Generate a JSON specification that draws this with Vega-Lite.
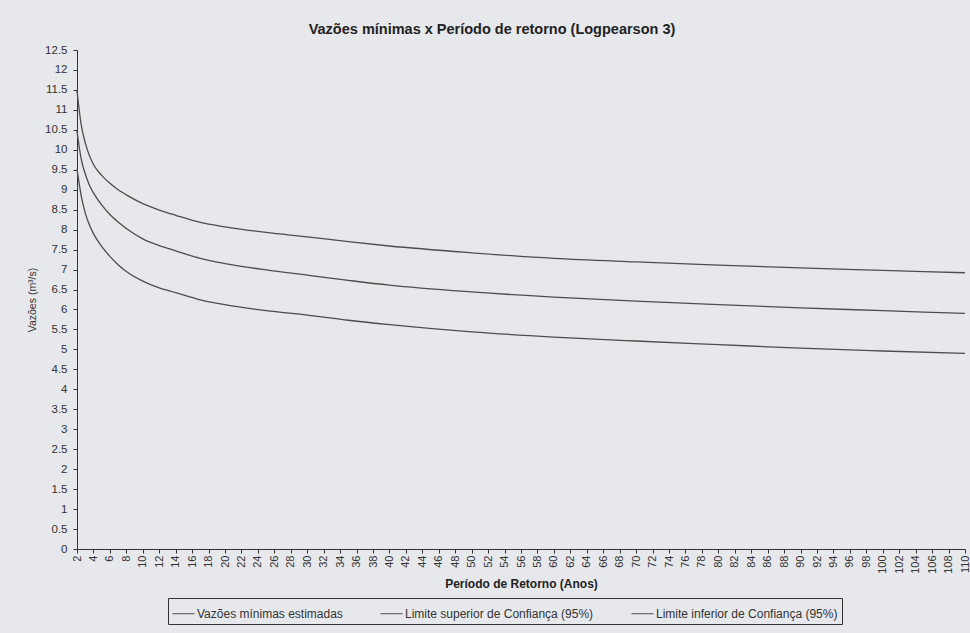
{
  "$schema": "https://vega.github.io/schema/vega-lite/v6.json",
  "width": 888,
  "height": 499,
  "autosize": {"type": "none"},
  "padding": {"left": 77, "top": 50, "right": 5, "bottom": 84},
  "background": "#e7e8ec",
  "title": {
    "text": "Vazões mínimas x Período de retorno (Logpearson 3)",
    "font": "Liberation Sans",
    "fontSize": 14.5,
    "fontWeight": "bold",
    "color": "#222222",
    "anchor": "middle",
    "dx": -29,
    "offset": 7
  },
  "config": {
    "view": {"stroke": null},
    "font": "Liberation Sans"
  },
  "data": {
    "values": [
      {"T": 2, "Vazões mínimas estimadas": 10.47, "Limite superior de Confiança (95%)": 11.48, "Limite inferior de Confiança (95%)": 9.52},
      {"T": 2.5, "Vazões mínimas estimadas": 9.78, "Limite superior de Confiança (95%)": 10.64, "Limite inferior de Confiança (95%)": 8.86},
      {"T": 3, "Vazões mínimas estimadas": 9.40, "Limite superior de Confiança (95%)": 10.18, "Limite inferior de Confiança (95%)": 8.42},
      {"T": 3.5, "Vazões mínimas estimadas": 9.12, "Limite superior de Confiança (95%)": 9.86, "Limite inferior de Confiança (95%)": 8.12},
      {"T": 4, "Vazões mínimas estimadas": 8.92, "Limite superior de Confiança (95%)": 9.63, "Limite inferior de Confiança (95%)": 7.90},
      {"T": 5, "Vazões mínimas estimadas": 8.62, "Limite superior de Confiança (95%)": 9.36, "Limite inferior de Confiança (95%)": 7.58},
      {"T": 6, "Vazões mínimas estimadas": 8.38, "Limite superior de Confiança (95%)": 9.16, "Limite inferior de Confiança (95%)": 7.33},
      {"T": 7, "Vazões mínimas estimadas": 8.19, "Limite superior de Confiança (95%)": 9.00, "Limite inferior de Confiança (95%)": 7.12},
      {"T": 8, "Vazões mínimas estimadas": 8.03, "Limite superior de Confiança (95%)": 8.87, "Limite inferior de Confiança (95%)": 6.95},
      {"T": 10, "Vazões mínimas estimadas": 7.77, "Limite superior de Confiança (95%)": 8.65, "Limite inferior de Confiança (95%)": 6.71},
      {"T": 12, "Vazões mínimas estimadas": 7.60, "Limite superior de Confiança (95%)": 8.49, "Limite inferior de Confiança (95%)": 6.54},
      {"T": 14, "Vazões mínimas estimadas": 7.47, "Limite superior de Confiança (95%)": 8.36, "Limite inferior de Confiança (95%)": 6.42},
      {"T": 17, "Vazões mínimas estimadas": 7.28, "Limite superior de Confiança (95%)": 8.18, "Limite inferior de Confiança (95%)": 6.24},
      {"T": 20, "Vazões mínimas estimadas": 7.15, "Limite superior de Confiança (95%)": 8.07, "Limite inferior de Confiança (95%)": 6.12},
      {"T": 25, "Vazões mínimas estimadas": 6.99, "Limite superior de Confiança (95%)": 7.93, "Limite inferior de Confiança (95%)": 5.97},
      {"T": 30, "Vazões mínimas estimadas": 6.86, "Limite superior de Confiança (95%)": 7.82, "Limite inferior de Confiança (95%)": 5.86},
      {"T": 35, "Vazões mínimas estimadas": 6.73, "Limite superior de Confiança (95%)": 7.70, "Limite inferior de Confiança (95%)": 5.73},
      {"T": 40, "Vazões mínimas estimadas": 6.61, "Limite superior de Confiança (95%)": 7.59, "Limite inferior de Confiança (95%)": 5.62},
      {"T": 50, "Vazões mínimas estimadas": 6.44, "Limite superior de Confiança (95%)": 7.42, "Limite inferior de Confiança (95%)": 5.44},
      {"T": 60, "Vazões mínimas estimadas": 6.31, "Limite superior de Confiança (95%)": 7.28, "Limite inferior de Confiança (95%)": 5.31},
      {"T": 70, "Vazões mínimas estimadas": 6.21, "Limite superior de Confiança (95%)": 7.19, "Limite inferior de Confiança (95%)": 5.21},
      {"T": 80, "Vazões mínimas estimadas": 6.12, "Limite superior de Confiança (95%)": 7.11, "Limite inferior de Confiança (95%)": 5.12},
      {"T": 90, "Vazões mínimas estimadas": 6.04, "Limite superior de Confiança (95%)": 7.04, "Limite inferior de Confiança (95%)": 5.03},
      {"T": 100, "Vazões mínimas estimadas": 5.97, "Limite superior de Confiança (95%)": 6.98, "Limite inferior de Confiança (95%)": 4.96},
      {"T": 110, "Vazões mínimas estimadas": 5.90, "Limite superior de Confiança (95%)": 6.92, "Limite inferior de Confiança (95%)": 4.90}
    ]
  },
  "transform": [
    {"fold": ["Vazões mínimas estimadas", "Limite superior de Confiança (95%)", "Limite inferior de Confiança (95%)"], "as": ["serie", "valor"]}
  ],
  "mark": {"type": "line", "interpolate": "monotone", "strokeWidth": 1.3},
  "encoding": {
    "x": {
      "field": "T",
      "type": "quantitative",
      "scale": {"domain": [2, 110], "nice": false, "zero": false},
      "axis": {
        "title": "Período de Retorno (Anos)",
        "titleFont": "Liberation Sans",
        "titleFontSize": 12,
        "titleFontWeight": "bold",
        "titleColor": "#222222",
        "titleY": 29,
        "titleBaseline": "top",
        "values": [2,4,6,8,10,12,14,16,18,20,22,24,26,28,30,32,34,36,38,40,42,44,46,48,50,52,54,56,58,60,62,64,66,68,70,72,74,76,78,80,82,84,86,88,90,92,94,96,98,100,102,104,106,108,110],
        "labelAngle": -90,
        "labelFontSize": 11,
        "labelColor": "#333333",
        "labelPadding": 2,
        "labelOverlap": false,
        "labelBound": false,
        "labelFlush": false,
        "tickSize": 4,
        "tickColor": "#333333",
        "domainColor": "#333333",
        "grid": false
      }
    },
    "y": {
      "field": "valor",
      "type": "quantitative",
      "scale": {"domain": [0, 12.5], "nice": false},
      "axis": {
        "title": "Vazões (m³/s)",
        "titleFont": "Liberation Sans",
        "titleFontSize": 10.5,
        "titleFontWeight": "normal",
        "titleColor": "#333333",
        "titleX": -45,
        "titleBaseline": "middle",
        "values": [0,0.5,1,1.5,2,2.5,3,3.5,4,4.5,5,5.5,6,6.5,7,7.5,8,8.5,9,9.5,10,10.5,11,11.5,12,12.5],
        "format": ".1~f",
        "labelFontSize": 11.5,
        "labelColor": "#333333",
        "labelPadding": 6,
        "labelOverlap": false,
        "tickSize": 4,
        "tickColor": "#333333",
        "domainColor": "#333333",
        "grid": false
      }
    },
    "stroke": {
      "field": "serie",
      "type": "nominal",
      "scale": {
        "domain": ["Vazões mínimas estimadas", "Limite superior de Confiança (95%)", "Limite inferior de Confiança (95%)"],
        "range": ["#4d4d4d", "#4d4d4d", "#4d4d4d"]
      },
      "legend": {
        "title": null,
        "orient": "none",
        "direction": "horizontal",
        "legendX": 91,
        "legendY": 548,
        "symbolType": "stroke",
        "symbolSize": 484,
        "symbolStrokeWidth": 1,
        "labelFontSize": 12,
        "labelLimit": 400,
        "labelColor": "#333333",
        "labelOffset": 2,
        "columnPadding": 35,
        "strokeColor": "#333333",
        "padding": 4
      }
    }
  }
}
